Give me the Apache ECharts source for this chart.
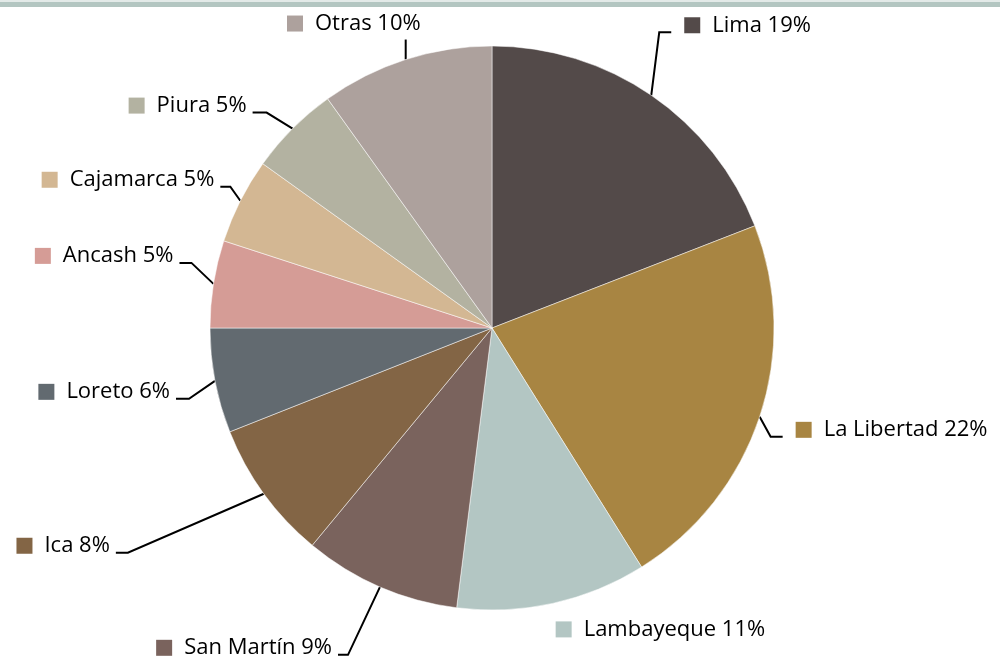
<!DOCTYPE html>
<html>
<head>
<meta charset="utf-8">
<script src="https://cdn.jsdelivr.net/npm/echarts@6/dist/echarts.min.js"></script>
<style>
  html, body { margin: 0; padding: 0; background: #fff; }
  #chart { width: 1000px; height: 658px; }
</style>
</head>
<body>
<div id="chart"></div>
<script>
// datos
const regions = ["Lima", "La Libertad", "Lambayeque", "San Martín", "Ica", "Loreto", "Ancash", "Cajamarca", "Piura", "Otras"];
const shares = [19.1, 22.0, 10.9, 9.0, 8.0, 6.0, 5.0, 4.9, 5.2, 9.9];

// estilo
const colors = ["#534a49", "#a88542", "#b3c6c3", "#7a635d", "#836545", "#626a70", "#d59c96", "#d3b793", "#b3b2a1", "#ada19d"];
// codo de la línea guía relativo al borde del sector, y largo del tramo horizontal
const bends = [[8, -63], [11, 20], null, [-32, 68], [-136, 59], [-26, 18], [-22, -21], [-10, -14], [-26, -16], [0, -20]];
const tails = [12, 12, 0, -10, -12, -13, -12, -10, -14, 0];

const CX = 492, CY = 328, R = 282;
const FONT = "Open Sans";
const FS = 22;

// punto medio del arco de cada sector
const total = shares.reduce((a, b) => a + b, 0);
let acc = 0;
const edges = shares.map(v => {
  const mid = (acc + v / 2) / total * Math.PI * 2;
  acc += v;
  return [CX + R * Math.sin(mid), CY - R * Math.cos(mid)];
});

const chart = echarts.init(document.getElementById("chart"));

chart.setOption({
  animation: false,
  graphic: [
    { type: "rect", shape: { x: 0, y: 0, width: 1000, height: 2 }, style: { fill: "#e3eae8" } },
    { type: "rect", shape: { x: 0, y: 2, width: 1000, height: 5 }, style: { fill: "#b3c6c1" } }
  ],
  series: [
    {
      type: "pie",
      center: [CX, CY],
      radius: R,
      startAngle: 90,
      clockwise: true,
      avoidLabelOverlap: false,
      itemStyle: { borderColor: "#fff", borderWidth: 0.5 },
      label: {
        show: true,
        position: "outside",
        color: "#000",
        fontFamily: FONT,
        fontSize: FS,
        formatter: p => "{sq|}{t|" + p.name + " " + Math.round(p.percent) + "%}",
        rich: {
          t: { fontFamily: FONT, fontSize: FS, color: "#000", padding: [0, 0, 0, 13] }
        }
      },
      labelLine: { show: true, lineStyle: { color: "#000", width: 2 } },
      labelLayout: function (p) {
        const i = p.dataIndex;
        const e = edges[i];
        if (!bends[i]) {
          // Lambayeque: sin línea guía
          return { x: e[0] + 3, y: e[1] + 26, align: "left", verticalAlign: "middle" };
        }
        const b = [e[0] + bends[i][0], e[1] + bends[i][1]];
        const end = [b[0] + tails[i], b[1]];
        if (i === regions.length - 1) {
          // Otras: etiqueta encima de la línea
          return {
            x: end[0] + 15, y: end[1] - 16, align: "right", verticalAlign: "middle",
            labelLinePoints: [e, b, end]
          };
        }
        const right = tails[i] > 0;
        return {
          x: right ? end[0] + 13 : end[0] - 6,
          y: end[1] - 7,
          align: right ? "left" : "right",
          verticalAlign: "middle",
          labelLinePoints: [e, b, end]
        };
      },
      data: regions.map((name, i) => ({
        name: name,
        value: shares[i],
        itemStyle: { color: colors[i] },
        labelLine: { show: bends[i] !== null },
        label: {
          rich: {
            sq: { width: 16, height: 16, backgroundColor: colors[i] },
            t: { fontFamily: FONT, fontSize: FS, color: "#000", padding: [0, 0, 0, 12] }
          }
        }
      }))
    }
  ]
});
</script>
</body>
</html>
